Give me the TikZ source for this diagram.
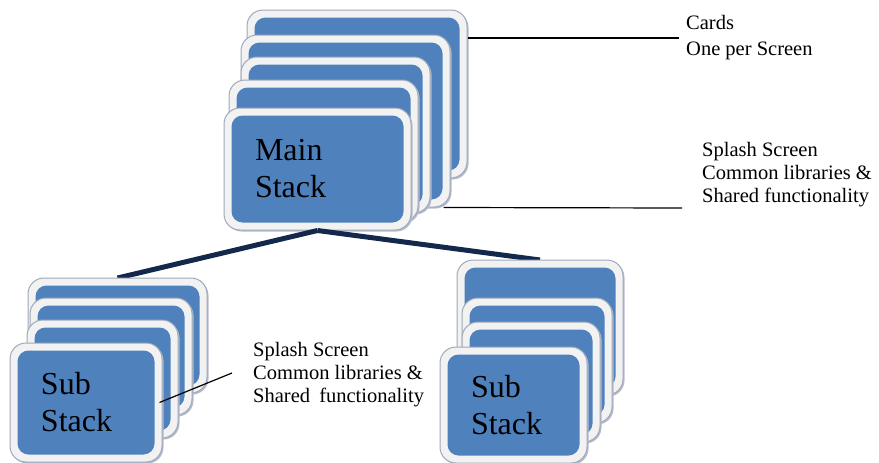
\documentclass[tikz,border=0pt]{standalone}
\usepackage{fontspec}
\setmainfont{Liberation Serif}
\usetikzlibrary{shadows}

\definecolor{cardblue}{HTML}{4F81BD}
\definecolor{cardrim}{HTML}{F2F2F2}
\definecolor{cardedge}{HTML}{9FA9BA}
\definecolor{cardshade}{HTML}{B4BCCA}
\definecolor{branchnavy}{HTML}{14284B}

\tikzset{
  stackcard/.style 2 args={rectangle, rounded corners=16pt,
    minimum width=#1, minimum height=#2, inner sep=0pt,
    fill=cardrim, draw=cardedge, line width=1pt,
    drop shadow={shadow xshift=1.5pt, shadow yshift=-1.5pt, fill=cardshade, opacity=1},
    path picture={\fill[cardblue, rounded corners=11pt]
      ([shift={(7.5pt,-7.5pt)}]path picture bounding box.north west) rectangle
      ([shift={(-7.5pt,7.5pt)}]path picture bounding box.south east);}},
  stacktext/.style={font=\fontsize{32}{37}\selectfont, align=left, inner xsep=31pt},
  note/.style={font=\fontsize{20.5}{23}\selectfont, align=left, inner sep=0pt, anchor=west},
  branch/.style={draw=branchnavy, line width=5pt},
  leader/.style={draw=black, line width=1.2pt},
}

\begin{document}
\begin{tikzpicture}[x=1pt, y=-1pt]
\useasboundingbox (0,0) rectangle (879,463);

% main stack
\node[stackcard={220}{168}] (m5) at (357,94) {};
\node[stackcard={209}{172}] (m4) at (345.5,121) {};
\node[stackcard={189}{156}] (m3) at (335.5,135) {};
\node[stackcard={189}{142}] (m2) at (323.5,151) {};
\node[stackcard={187}{122}, stacktext, text width=125pt] (m1) at (317.5,169) {Main\\Stack};

% branches to the sub stacks
\draw[branch] (m1.south) -- (117.5,278) coordinate (lefttop);
\draw[branch] (m1.south) -- (540,260) coordinate (righttop);

% left sub stack
\node[stackcard={179}{115}] (l4) at (117.5,335.5) {};
\node[stackcard={162}{117}] (l3) at (111,356.5) {};
\node[stackcard={151}{118}] (l2) at (102.5,379) {};
\node[stackcard={152}{119}, stacktext, text width=90pt] (l1) at (86,402.5) {Sub\\Stack};

% right sub stack
\node[stackcard={166}{135}] (r4) at (540,327.5) {};
\node[stackcard={150}{125}] (r3) at (537,360.5) {};
\node[stackcard={138}{120}] (r2) at (531,382) {};
\node[stackcard={147}{116}, stacktext, text width=85pt] (r1) at (513.5,405) {Sub\\Stack};

% notes
\node[note, font=\fontsize{20.5}{26}\selectfont] (cardsnote) at (686,38) {Cards\\One per Screen};
\node[note] (mainnote) at (702,175) {Splash Screen\\Common libraries \&\\Shared functionality};
\node[note] (subnote) at (253,375) {Splash Screen\\Common libraries \&\\Shared\hspace{4pt} functionality};

\coordinate (cardsend) at (679,38);
\coordinate (mainend) at (682,208);
\coordinate (subend) at (232,373);
\draw[leader] (m5.east |- cardsend) -- (cardsend);
\draw[leader] ([xshift=-7pt]m4.south east) -- (mainend);
\draw[leader] ([xshift=-3pt]l1.east) -- (subend);
\end{tikzpicture}
\end{document}
